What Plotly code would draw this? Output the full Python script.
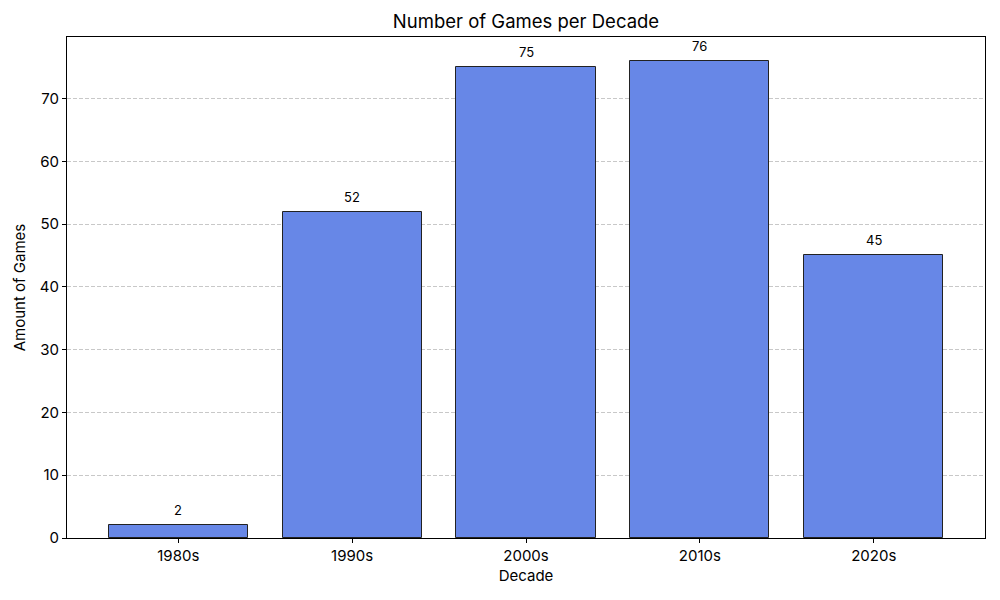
import plotly.graph_objects as go

decades = ["1980s", "1990s", "2000s", "2010s", "2020s"]
games = [2, 52, 75, 76, 45]
y_ticks = [0, 10, 20, 30, 40, 50, 60, 70]

FONT = "Inter, Roboto, sans-serif"

fig = go.Figure()
fig.add_trace(go.Bar(
    x=list(range(len(decades))), y=games,
    width=0.8,
    marker=dict(color="#6787e7", line=dict(color="#222222", width=1)),
    showlegend=False,
))
for i, v in enumerate(games):
    fig.add_annotation(x=i, y=v, text=str(v), showarrow=False,
                       yanchor="bottom", yshift=5,
                       font=dict(size=13, color="black", family=FONT))

fig.update_layout(
    width=1000, height=600,
    margin=dict(l=67, r=15, t=37, b=62),
    paper_bgcolor="white", plot_bgcolor="white",
    font=dict(family=FONT, color="black"),
    title=dict(text="Number of Games per Decade", x=0.526, xanchor="center",
               y=1 - 22/600, yanchor="middle", font=dict(size=18.5)),
    bargap=0,
)
fig.update_xaxes(
    range=[-0.64, 4.64],
    tickvals=list(range(len(decades))), ticktext=decades,
    tickfont=dict(size=15),
    ticks="outside", ticklen=4, tickcolor="black",
    showline=True, linecolor="black", linewidth=1, mirror=True,
    showgrid=False, zeroline=False,
    title=dict(text="Decade", font=dict(size=15), standoff=6),
)
fig.update_yaxes(
    range=[0, 79.8],
    tickvals=y_ticks,
    tickfont=dict(size=15),
    ticks="outside", ticklen=4, tickcolor="black",
    showline=True, linecolor="black", linewidth=1, mirror=True,
    showgrid=True, gridcolor="rgba(170,170,170,0.65)", griddash="4px,2px", gridwidth=1,
    zeroline=False,
    title=dict(text="Amount of Games", font=dict(size=15), standoff=10),
)

fig.write_html("out.html")
